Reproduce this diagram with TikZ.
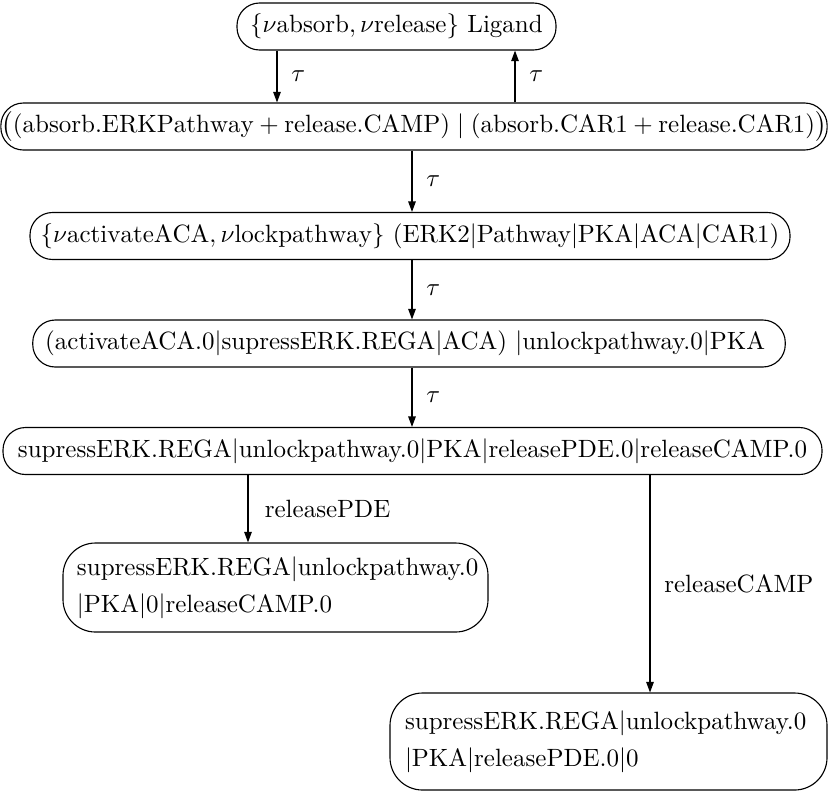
\documentclass[tikz,border=0pt]{standalone}
\usepackage{fontspec}
\usetikzlibrary{arrows.meta}
\newcommand{\pb}{$|$}
\begin{document}
\begin{tikzpicture}[x=0.4pt,y=-0.4pt,
  state/.style={draw, rounded corners=9pt, minimum height=18.8pt, inner sep=0pt, line width=0.45pt},
  statetwo/.style={draw, rounded corners=13pt, align=left, inner ysep=0pt, line width=0.45pt},
  trans/.style={-{Triangle[length=4.2pt,width=3pt]}, line width=0.45pt},
  lbl/.style={midway, anchor=west, inner sep=0pt, xshift=5.5pt}]
\useasboundingbox (0,0) rectangle (830,794);

% states
\node[state, minimum width=127.6pt] (lig) at (396.5,26.5)
  {$\{\nu\mathrm{absorb}, \nu\mathrm{release}\}$ Ligand};
\node[state, minimum width=330.5pt] (sum) at (414,126.5)
  {$\bigl((\mathrm{absorb.ERKPathway}+\mathrm{release.CAMP})\mid(\mathrm{absorb.CAR1}+\mathrm{release.CAR1})\bigr)$};
\node[state, minimum width=304pt] (res) at (410,236)
  {$\{\nu\mathrm{activateACA}, \nu\mathrm{lockpathway}\}$ (ERK2\pb Pathway\pb PKA\pb ACA\pb CAR1)};
\node[state, align=left, inner xsep=5pt, text width=291pt] (act) at (409,343.5)
  {(activateACA.0\pb supressERK.REGA\pb ACA) \pb unlockpathway.0\pb PKA};
\node[state, minimum width=327.6pt] (rel) at (412.5,451)
  {supressERK.REGA\pb unlockpathway.0\pb PKA\pb releasePDE.0\pb releaseCAMP.0};
\node[statetwo, minimum height=35.6pt, inner xsep=5.6pt, text width=158.8pt] (pde) at (275.5,587.5)
  {supressERK.REGA\pb unlockpathway.0\\[2.8pt]\pb PKA\pb 0\pb releaseCAMP.0};
\node[statetwo, minimum height=38.8pt, inner xsep=6pt, text width=162.8pt] (camp) at (608.5,741.5)
  {supressERK.REGA\pb unlockpathway.0\\[2.8pt]\pb PKA\pb releasePDE.0\pb 0};

% x positions of the transition lines
\coordinate (xa) at (277,0);
\coordinate (xb) at (515,0);
\coordinate (xc) at (412,0);
\coordinate (xd) at (248,0);
\coordinate (xe) at (650,0);

% transitions
\draw[trans] (lig.south -| xa) -- node[lbl] {$\tau$} (sum.north -| xa);
\draw[trans] (sum.north -| xb) -- node[lbl] {$\tau$} (lig.south -| xb);
\draw[trans] (sum.south -| xc) -- node[lbl] {$\tau$} (res.north -| xc);
\draw[trans] (res.south -| xc) -- node[lbl] {$\tau$} (act.north -| xc);
\draw[trans] (act.south -| xc) -- node[lbl] {$\tau$} (rel.north -| xc);
\draw[trans] (rel.south -| xd) -- node[lbl, xshift=1pt] {releasePDE} (pde.north -| xd);
\draw[trans] (rel.south -| xe) -- node[lbl] {releaseCAMP} (camp.north -| xe);
\end{tikzpicture}
\end{document}
